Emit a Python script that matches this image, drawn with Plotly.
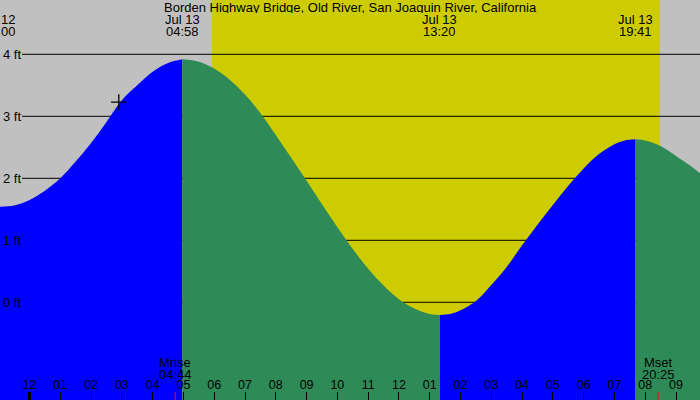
import plotly.graph_objects as go

# ---------------- data ----------------
title_text = "Borden Highway Bridge, Old River, San Joaquin River, California"

# tide segments: rising (blue) / falling (green)
rise1_t = ["2024-07-12 23:02:30", "2024-07-12 23:30", "2024-07-13 00:00", "2024-07-13 00:30",
           "2024-07-13 01:00", "2024-07-13 01:30", "2024-07-13 02:00", "2024-07-13 02:30",
           "2024-07-13 03:00", "2024-07-13 03:30", "2024-07-13 04:00", "2024-07-13 04:30",
           "2024-07-13 04:58"]
rise1_h = [1.54, 1.56, 1.65, 1.80, 2.00, 2.27, 2.57, 2.91, 3.26, 3.50, 3.72, 3.86, 3.92]

fall1_t = ["2024-07-13 04:58", "2024-07-13 05:30", "2024-07-13 06:00", "2024-07-13 06:30",
           "2024-07-13 07:00", "2024-07-13 07:30", "2024-07-13 08:00", "2024-07-13 08:30",
           "2024-07-13 09:00", "2024-07-13 09:30", "2024-07-13 10:00", "2024-07-13 10:30",
           "2024-07-13 11:00", "2024-07-13 11:30", "2024-07-13 12:00", "2024-07-13 12:30",
           "2024-07-13 13:00", "2024-07-13 13:20"]
fall1_h = [3.92, 3.88, 3.77, 3.59, 3.35, 3.05, 2.70, 2.33, 1.96, 1.58, 1.21, 0.86,
           0.54, 0.27, 0.05, -0.10, -0.19, -0.205]

rise2_t = ["2024-07-13 13:20", "2024-07-13 13:40", "2024-07-13 14:00", "2024-07-13 14:30",
           "2024-07-13 15:00", "2024-07-13 15:30", "2024-07-13 16:00", "2024-07-13 16:30",
           "2024-07-13 17:00", "2024-07-13 17:30", "2024-07-13 18:00", "2024-07-13 18:30",
           "2024-07-13 19:00", "2024-07-13 19:20", "2024-07-13 19:41"]
rise2_h = [-0.205, -0.19, -0.13, 0.02, 0.28, 0.57, 0.92, 1.25, 1.57, 1.88, 2.16, 2.39,
           2.55, 2.61, 2.63]

fall2_t = ["2024-07-13 19:41", "2024-07-13 20:00", "2024-07-13 20:30", "2024-07-13 21:00",
           "2024-07-13 21:30", "2024-07-13 21:46:44"]
fall2_h = [2.63, 2.61, 2.52, 2.36, 2.19, 2.08]

# tide extremes labels
extreme_times = ["2024-07-13 04:58", "2024-07-13 13:20", "2024-07-13 19:41"]
extreme_dates = ["Jul 13", "Jul 13", "Jul 13"]
extreme_clock = ["04:58", "13:20", "19:41"]
prev_label = ["12", "00"]   # clipped label at the left edge

# sun / moon
sunrise = "2024-07-13 05:56"
sunset = "2024-07-13 20:29"
moon_times = ["2024-07-13 04:44", "2024-07-13 20:25"]
moon_names = ["Mrise", "Mset"]
moon_clock = ["04:44", "20:25"]
midnight = "2024-07-13 00:00"

# current position marker
now_t = ["2024-07-13 02:54"]
now_h = [3.23]

# axes
x_range = ["2024-07-12 23:02:30", "2024-07-13 21:46:44"]
y_range = [-1.576, 4.876]
ft_levels = [0, 1, 2, 3, 4]
ft_labels = ["0 ft", "1 ft", "2 ft", "3 ft", "4 ft"]

# ---------------- styles ----------------
GRAY = "#c0c0c0"
YELLOW = "#cccc00"
BLUE = "#0000ff"
GREEN = "#2e8b57"
FAM = "Liberation Sans, Arial, sans-serif"
FONT = dict(family=FAM, size=13, color="black")
TICKFONT = dict(family=FAM, size=12.5, color="black")
H = 400.0

fig = go.Figure()

segments = [(rise1_t, rise1_h, BLUE), (fall1_t, fall1_h, GREEN),
            (rise2_t, rise2_h, BLUE), (fall2_t, fall2_h, GREEN)]
for ts, hs, col in segments:
    fig.add_trace(go.Scatter(x=[ts[0], ts[-1]], y=[y_range[0] - 1] * 2, mode="lines",
                             line=dict(width=0, color=col), hoverinfo="skip", showlegend=False))
    fig.add_trace(go.Scatter(x=ts, y=hs, mode="lines", fill="tonexty", fillcolor=col,
                             line=dict(width=0, color=col, shape="spline", smoothing=1),
                             hoverinfo="skip", showlegend=False))

fig.add_trace(go.Scatter(x=now_t, y=now_h, mode="markers",
                         marker=dict(symbol="cross-thin", size=11,
                                     line=dict(color="black", width=1.3)),
                         showlegend=False, hoverinfo="skip"))

shapes = [dict(type="rect", xref="x", yref="paper", x0=sunrise, x1=sunset, y0=0, y1=1,
               fillcolor=YELLOW, line=dict(width=0), layer="below")]
for lv in ft_levels:
    shapes.append(dict(type="line", xref="paper", yref="y", x0=22 / 700, x1=1, y0=lv, y1=lv,
                       line=dict(color="black", width=1), layer="below"))
shapes.append(dict(type="line", xref="x", yref="paper", x0=midnight, x1=midnight,
                   y0=0, y1=8 / H, line=dict(color="black", width=3)))
for mt in moon_times:
    shapes.append(dict(type="line", xref="x", yref="paper", x0=mt, x1=mt,
                       y0=0, y1=8 / H, line=dict(color="red", width=1)))


def ann(text, x, ypix, xref="x", xanchor="center", font=FONT):
    return dict(text=text, xref=xref, yref="paper", x=x, y=1 - ypix / H,
                xanchor=xanchor, yanchor="middle", showarrow=False, font=font,
                height=11, borderpad=0, valign="middle")


annotations = [ann(title_text, 0.5, 7.5, xref="paper")]
for t, d, c in zip(extreme_times, extreme_dates, extreme_clock):
    annotations.append(ann(d, t, 19.5))
    annotations.append(ann(c, t, 31.5))
annotations.append(ann(prev_label[0], 0.0, 19.5, xref="paper", xanchor="left"))
annotations.append(ann(prev_label[1], 0.0, 31.5, xref="paper", xanchor="left"))
for t, n, c in zip(moon_times, moon_names, moon_clock):
    annotations.append(ann(n, t, 362.5))
    annotations.append(ann(c, t, 374))

fig.update_layout(
    width=700, height=400, margin=dict(l=0, r=0, t=0, b=0),
    paper_bgcolor=GRAY, plot_bgcolor=GRAY, showlegend=False,
    font=FONT, shapes=shapes, annotations=annotations,
    xaxis=dict(type="date", range=x_range, dtick=3600000, tick0=midnight, tickformat="%I",
               ticks="inside", ticklen=8, tickcolor="black", tickwidth=1,
               ticklabelposition="inside", showgrid=False, zeroline=False, showline=False,
               tickfont=TICKFONT),
    yaxis=dict(range=y_range, tickvals=ft_levels, ticktext=ft_labels, ticks="",
               ticklabelposition="inside", showgrid=False, zeroline=False, showline=False,
               tickfont=FONT),
)

fig.write_html("out.html")
